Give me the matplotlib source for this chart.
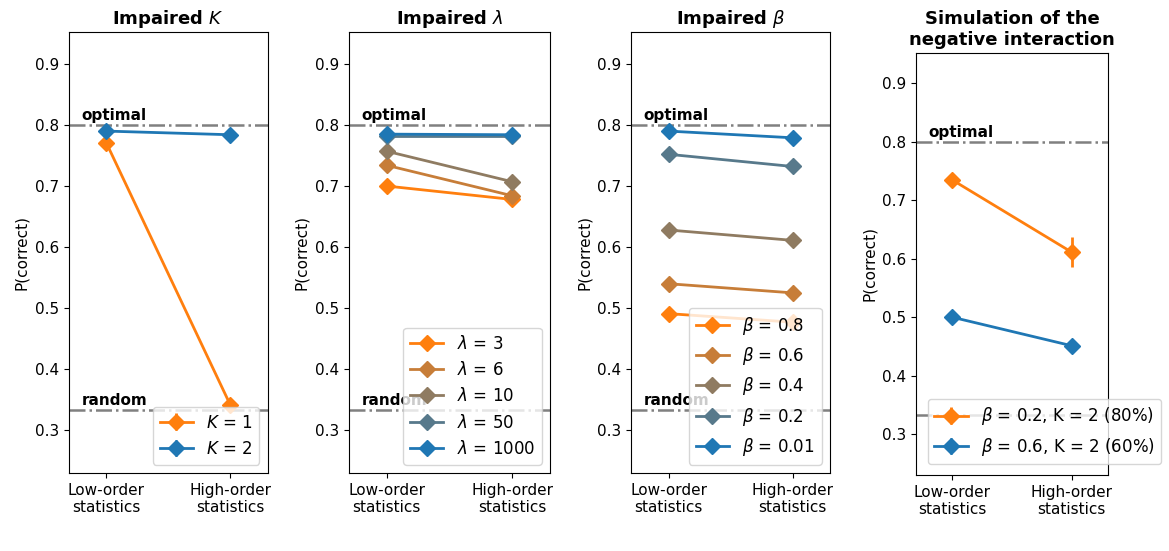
import numpy as np
import matplotlib
matplotlib.use("Agg")
import matplotlib.pyplot as plt
from matplotlib.colors import to_rgb

# ---- data ----
conditions = ["Low-order\nstatistics", "High-order\nstatistics"]
optimal_level = 0.8
random_level = 1 / 3

k_labels = ["$K$ = 1", "$K$ = 2"]
k_values = [[0.771, 0.341], [0.790, 0.784]]
k_errors = [[0.004, 0.004], [0.003, 0.003]]

lam_labels = [r"$\lambda$ = 3", r"$\lambda$ = 6", r"$\lambda$ = 10",
              r"$\lambda$ = 50", r"$\lambda$ = 1000"]
lam_values = [[0.700, 0.678], [0.734, 0.684], [0.757, 0.707],
              [0.782, 0.782], [0.785, 0.784]]

beta_labels = [r"$\beta$ = 0.8", r"$\beta$ = 0.6", r"$\beta$ = 0.4",
               r"$\beta$ = 0.2", r"$\beta$ = 0.01"]
beta_values = [[0.491, 0.477], [0.540, 0.525], [0.628, 0.611],
               [0.752, 0.732], [0.790, 0.779]]

sim_labels = [r"$\beta$ = 0.2, K = 2 (80%)", r"$\beta$ = 0.6, K = 2 (60%)"]
sim_values = [[0.735, 0.611], [0.500, 0.451]]
sim_errors = [[0.004, 0.026], [0.003, 0.003]]

ORANGE = "#ff7f0e"
BLUE = "#1f77b4"


def blend(n):
    a, b = np.array(to_rgb(ORANGE)), np.array(to_rgb(BLUE))
    return [tuple(a + (b - a) * t) for t in np.linspace(0, 1, n)]


def draw_panel(ax, title, labels, values, colors, errors=None, show_random_text=True):
    x = np.arange(len(conditions))
    for i, (lab, vals, col) in enumerate(zip(labels, values, colors)):
        err = errors[i] if errors is not None else None
        ax.errorbar(x, vals, yerr=err, color=col, marker="D", markersize=8,
                    linewidth=2, elinewidth=2, label=lab, zorder=3)
    ax.axhline(optimal_level, color="gray", linestyle="-.", linewidth=1.8, zorder=1)
    ax.axhline(random_level, color="gray", linestyle="-.", linewidth=1.8, zorder=1)
    ax.text(-0.2, optimal_level + 0.003, "optimal", fontweight="bold",
            fontsize=11, va="bottom")
    if show_random_text:
        ax.text(-0.2, random_level + 0.003, "random", fontweight="bold",
                fontsize=11, va="bottom")
    ax.set_xlim(-0.3, 1.3)
    ax.set_ylim(0.23, 0.952)
    ax.set_xticks(x)
    ax.set_xticklabels(conditions, fontsize=11)
    ax.set_yticks([0.3, 0.4, 0.5, 0.6, 0.7, 0.8, 0.9])
    ax.tick_params(labelsize=11)
    ax.set_ylabel("P(correct)", fontsize=11)
    ax.set_title(title, fontsize=13, fontweight="bold")


fig = plt.figure(figsize=(11.69, 5.51), dpi=100)

ax1 = fig.add_axes([0.059, 0.1416, 0.170, 0.800])
draw_panel(ax1, "Impaired $K$", k_labels, k_values, [ORANGE, BLUE], k_errors)
ax1.legend(loc="lower right", fontsize=12)

ax2 = fig.add_axes([0.2985, 0.1416, 0.172, 0.800])
draw_panel(ax2, r"Impaired $\lambda$", lam_labels, lam_values, blend(5))
ax2.legend(loc="lower right", fontsize=12)

ax3 = fig.add_axes([0.540, 0.1416, 0.170, 0.800])
draw_panel(ax3, r"Impaired $\beta$", beta_labels, beta_values, blend(5))
ax3.legend(loc="lower right", fontsize=12)

ax4 = fig.add_axes([0.7836, 0.138, 0.164, 0.766])
draw_panel(ax4, "Simulation of the\nnegative interaction", sim_labels,
           sim_values, [ORANGE, BLUE], sim_errors, show_random_text=False)
ax4.legend(loc="lower left", bbox_to_anchor=(0.06, 0.025), fontsize=12,
           borderaxespad=0)

fig.savefig("out.png", dpi=100)
